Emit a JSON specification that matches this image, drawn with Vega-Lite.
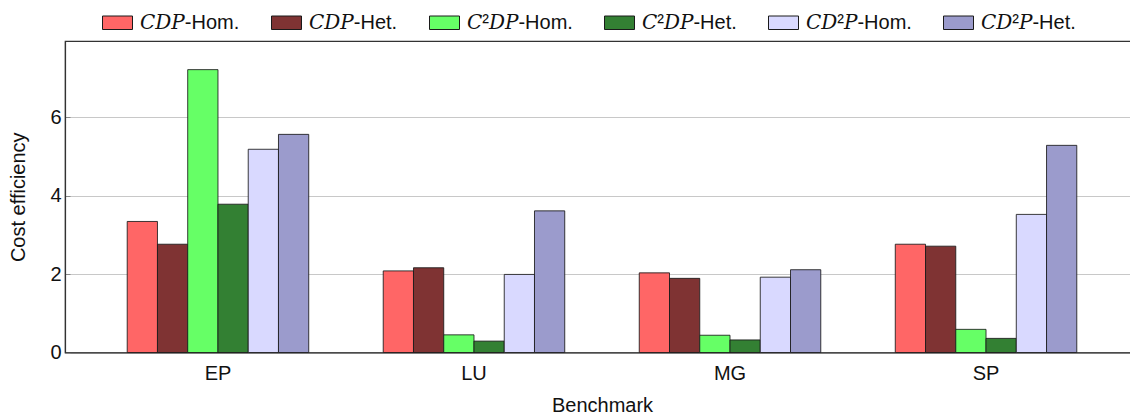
{
  "$schema": "https://vega.github.io/schema/vega-lite/v6.json",
  "autosize": {"type": "none"},
  "width": 1074,
  "height": 311.5,
  "padding": {"left": 65, "top": 41, "right": 0, "bottom": 66.5},
  "background": "white",
  "config": {
    "font": "Liberation Sans",
    "view": {"stroke": "#333333", "strokeWidth": 1.2},
    "axis": {
      "labelFont": "Liberation Sans",
      "titleFont": "Liberation Sans",
      "labelFontSize": 20,
      "titleFontSize": 20,
      "labelColor": "#111111",
      "titleColor": "#111111",
      "titleFontWeight": "normal"
    },
    "legend": {
      "labelFont": "Liberation Sans, DejaVu Serif",
      "labelFontSize": 20,
      "labelColor": "#111111"
    }
  },
  "data": {
    "values": [
      {"benchmark": "EP", "series": "𝐶𝐷𝑃-Hom.", "value": 3.34},
      {"benchmark": "EP", "series": "𝐶𝐷𝑃-Het.", "value": 2.76},
      {"benchmark": "EP", "series": "𝐶²𝐷𝑃-Hom.", "value": 7.21},
      {"benchmark": "EP", "series": "𝐶²𝐷𝑃-Het.", "value": 3.78},
      {"benchmark": "EP", "series": "𝐶𝐷²𝑃-Hom.", "value": 5.18},
      {"benchmark": "EP", "series": "𝐶𝐷²𝑃-Het.", "value": 5.56},
      {"benchmark": "LU", "series": "𝐶𝐷𝑃-Hom.", "value": 2.08},
      {"benchmark": "LU", "series": "𝐶𝐷𝑃-Het.", "value": 2.16},
      {"benchmark": "LU", "series": "𝐶²𝐷𝑃-Hom.", "value": 0.45},
      {"benchmark": "LU", "series": "𝐶²𝐷𝑃-Het.", "value": 0.29},
      {"benchmark": "LU", "series": "𝐶𝐷²𝑃-Hom.", "value": 1.99},
      {"benchmark": "LU", "series": "𝐶𝐷²𝑃-Het.", "value": 3.61},
      {"benchmark": "MG", "series": "𝐶𝐷𝑃-Hom.", "value": 2.03},
      {"benchmark": "MG", "series": "𝐶𝐷𝑃-Het.", "value": 1.89},
      {"benchmark": "MG", "series": "𝐶²𝐷𝑃-Hom.", "value": 0.44},
      {"benchmark": "MG", "series": "𝐶²𝐷𝑃-Het.", "value": 0.32},
      {"benchmark": "MG", "series": "𝐶𝐷²𝑃-Hom.", "value": 1.92},
      {"benchmark": "MG", "series": "𝐶𝐷²𝑃-Het.", "value": 2.11},
      {"benchmark": "SP", "series": "𝐶𝐷𝑃-Hom.", "value": 2.76},
      {"benchmark": "SP", "series": "𝐶𝐷𝑃-Het.", "value": 2.71},
      {"benchmark": "SP", "series": "𝐶²𝐷𝑃-Hom.", "value": 0.59},
      {"benchmark": "SP", "series": "𝐶²𝐷𝑃-Het.", "value": 0.36},
      {"benchmark": "SP", "series": "𝐶𝐷²𝑃-Hom.", "value": 3.52},
      {"benchmark": "SP", "series": "𝐶𝐷²𝑃-Het.", "value": 5.28}
    ]
  },
  "mark": {"type": "bar", "stroke": "#1a1a1a", "strokeWidth": 1, "strokeOpacity": 0.85},
  "encoding": {
    "x": {
      "field": "benchmark",
      "type": "nominal",
      "sort": ["EP", "LU", "MG", "SP"],
      "scale": {"paddingInner": 0.291, "paddingOuter": 0.243},
      "axis": {
        "title": "Benchmark",
        "labelAngle": 0,
        "ticks": false,
        "labelPadding": 11,
        "titlePadding": 12,
        "domainColor": "#333333",
        "domainWidth": 1.2
      }
    },
    "xOffset": {
      "field": "series",
      "type": "nominal",
      "sort": ["𝐶𝐷𝑃-Hom.", "𝐶𝐷𝑃-Het.", "𝐶²𝐷𝑃-Hom.", "𝐶²𝐷𝑃-Het.", "𝐶𝐷²𝑃-Hom.", "𝐶𝐷²𝑃-Het."],
      "scale": {"paddingInner": 0, "paddingOuter": 0}
    },
    "y": {
      "field": "value",
      "type": "quantitative",
      "scale": {"domain": [0, 7.94], "nice": false},
      "axis": {
        "title": "Cost efficiency",
        "values": [0, 2, 4, 6],
        "grid": true,
        "gridColor": "#c8c8c8",
        "gridWidth": 1,
        "ticks": true,
        "tickSize": -5,
        "tickColor": "#888888",
        "labelPadding": 9,
        "titlePadding": 21,
        "domainColor": "#333333",
        "domainWidth": 1.2
      }
    },
    "color": {
      "field": "series",
      "type": "nominal",
      "scale": {
        "domain": ["𝐶𝐷𝑃-Hom.", "𝐶𝐷𝑃-Het.", "𝐶²𝐷𝑃-Hom.", "𝐶²𝐷𝑃-Het.", "𝐶𝐷²𝑃-Hom.", "𝐶𝐷²𝑃-Het."],
        "range": ["#ff6666", "#7f3333", "#66ff66", "#338033", "#d9d9ff", "#9b9bcc"]
      },
      "legend": {
        "title": null,
        "orient": "none",
        "direction": "horizontal",
        "columns": 6,
        "legendX": 37,
        "legendY": -34,
        "symbolType": "M-1,-0.45H1V0.45H-1Z",
        "symbolSize": 900,
        "symbolStrokeColor": "#1a1a1a",
        "symbolStrokeWidth": 1,
        "symbolOpacity": 1,
        "labelOffset": 7,
        "columnPadding": 29
      }
    }
  }
}
